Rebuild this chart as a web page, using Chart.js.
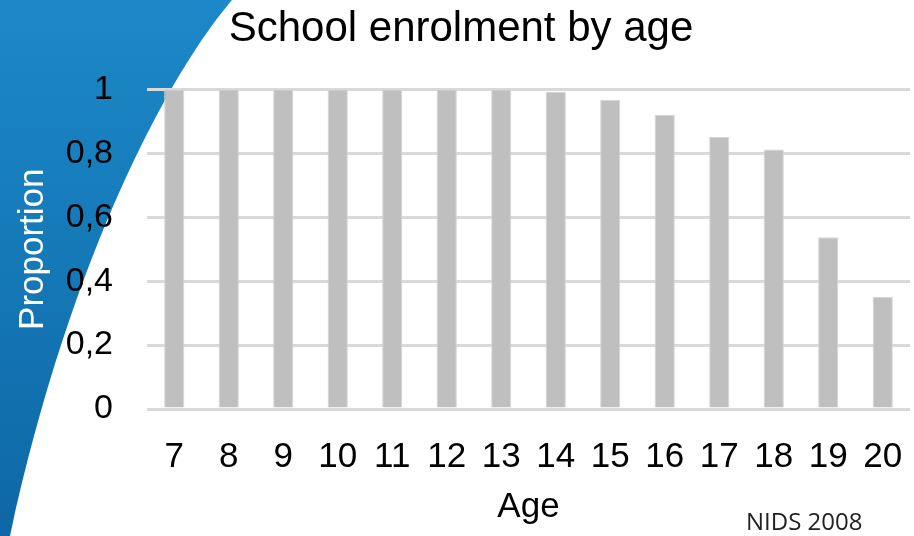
<!DOCTYPE html>
<html>
<head>
<meta charset="utf-8">
<title>School enrolment by age</title>
<script src="https://cdn.jsdelivr.net/npm/chart.js@4/dist/chart.umd.min.js"></script>
<style>
  html, body { margin: 0; padding: 0; background: #ffffff; }
  #wrap { width: 914px; height: 536px; position: relative; }
</style>
</head>
<body>
<div id="wrap"><canvas id="canvas"></canvas></div>
<script>
// enrolment proportion per age (NIDS wave 1)
var ages = ['7', '8', '9', '10', '11', '12', '13', '14', '15', '16', '17', '18', '19', '20'];
var proportion = [1.0, 1.0, 1.0, 1.0, 1.0, 1.0, 1.0, 0.992, 0.968, 0.921, 0.851, 0.812, 0.537, 0.351];
var yTicks = [0, 0.2, 0.4, 0.6, 0.8, 1];
var sourceNote = 'NIDS 2008';

var FONT = "'Liberation Sans', Arial, sans-serif";

// blue slide swoosh on the left, drawn behind the chart
var swoosh = {
  id: 'swoosh',
  beforeDraw: function(chart) {
    var ctx = chart.ctx;
    var g = ctx.createLinearGradient(0, 0, 0, chart.height);
    g.addColorStop(0, '#1c89c8');
    g.addColorStop(1, '#0e67a6');
    ctx.save();
    ctx.fillStyle = g;
    ctx.beginPath();
    ctx.moveTo(0, 0);
    ctx.lineTo(232, 0);
    ctx.bezierCurveTo(172, 70, 72, 250, 10, chart.height);
    ctx.lineTo(0, chart.height);
    ctx.closePath();
    ctx.fill();
    ctx.restore();
  },
  afterDraw: function(chart) {
    var ctx = chart.ctx;
    ctx.save();
    ctx.fillStyle = '#222222';
    ctx.font = "24px 'Open Sans', sans-serif";
    ctx.textAlign = 'left';
    ctx.textBaseline = 'middle';
    ctx.fillText(sourceNote, 746, 523);
    ctx.restore();
  }
};

var ctx = document.getElementById('canvas').getContext('2d');
window.myBar = new Chart(ctx, {
  type: 'bar',
  data: {
    labels: ages,
    datasets: [{
      label: 'Proportion',
      data: proportion,
      backgroundColor: '#bfbfbf',
      borderColor: '#d4d4d4',
      borderWidth: 1,
      barPercentage: 0.74,
      categoryPercentage: 0.5
    }]
  },
  options: {
    responsive: true,
    maintainAspectRatio: false,
    animation: false,
    layout: { padding: { left: 12, right: 4, top: 0, bottom: 8 } },
    plugins: {
      legend: { display: false },
      tooltip: { enabled: false },
      title: {
        display: true,
        text: 'School enrolment by age',
        color: '#000000',
        font: { family: FONT, size: 42, weight: 'normal' },
        padding: { top: 4, bottom: 35 }
      }
    },
    scales: {
      x: {
        grid: { display: false, drawTicks: false },
        border: { display: false },
        ticks: {
          color: '#000000',
          font: { family: FONT, size: 35 },
          padding: 27,
          maxRotation: 0,
          autoSkip: false
        },
        title: {
          display: true,
          text: 'Age',
          color: '#000000',
          font: { family: FONT, size: 35 },
          padding: { top: 8, bottom: 0 }
        },
        afterFit: function(s) {
          s.height = 119;
          s.paddingLeft = 0;
          s.paddingRight = 0;
        }
      },
      y: {
        min: 0,
        max: 1,
        afterBuildTicks: function(axis) {
          axis.ticks = yTicks.map(function(v) { return { value: v }; });
        },
        grid: { color: '#d9d9d9', lineWidth: 3, drawTicks: false },
        border: { display: false },
        ticks: {
          color: '#000000',
          font: { family: FONT, size: 34 },
          padding: 34,
          callback: function(v) { return String(Math.round(v * 10) / 10).replace('.', ','); }
        },
        title: {
          display: true,
          text: 'Proportion',
          color: '#ffffff',
          font: { family: FONT, size: 35 },
          padding: { top: 0, bottom: 17 }
        },
        afterFit: function(s) {
          s.width = 135;
          s.paddingTop = 0;
          s.paddingBottom = 0;
        }
      }
    }
  },
  plugins: [swoosh]
});
</script>
</body>
</html>
